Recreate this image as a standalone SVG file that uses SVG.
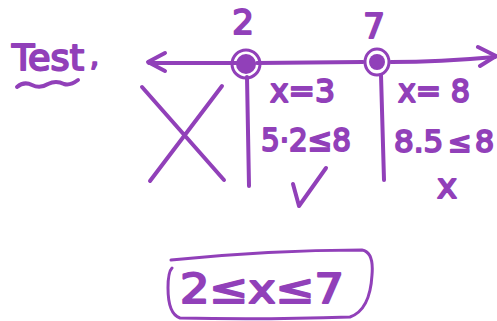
<svg xmlns="http://www.w3.org/2000/svg" width="497" height="321" viewBox="0 0 497 321">
<style>
.s{fill:none;stroke:#9140b9;stroke-linecap:round;stroke-linejoin:round}
.t{fill:#9140b9;font-family:"DejaVu Sans",sans-serif;stroke:#9140b9;stroke-width:2;stroke-linejoin:round}
</style>
<rect width="497" height="321" fill="#fff"/>
<g id="title">
<text class="t" x="12" y="70" font-size="36" textLength="72" lengthAdjust="spacingAndGlyphs" font-family="Liberation Sans, sans-serif">Test</text>
<text class="t" x="90" y="66" font-size="28">,</text>
<path class="s" stroke-width="4" d="M17 87 Q24 81 32 85 Q40 89 48 84 Q56 80 64 84 Q70 86 78 80"/>
</g>
<g id="connectors">
<path class="s" stroke-width="4" d="M149 63 L238 63 M257 63 L363 62 M391 62 Q440 62 495 57"/>
<path class="s" stroke-width="4" d="M165 53 L148 62 L165 71"/>
<path class="s" stroke-width="4" d="M478 47 L496 56 L480 66"/>
<path class="s" stroke-width="4" d="M247 77 L249 186"/>
<path class="s" stroke-width="4" d="M381 75 L384 180"/>
</g>
<g id="n2">
<circle cx="246" cy="64" r="14" fill="none" stroke="#9140b9" stroke-width="3"/>
<circle cx="246" cy="64" r="10" fill="#9140b9"/>
<text class="t" x="243" y="34" font-size="34" text-anchor="middle">2</text>
</g>
<g id="n7">
<ellipse cx="377" cy="62" rx="12" ry="13" fill="none" stroke="#9140b9" stroke-width="3"/>
<circle cx="377" cy="62" r="8" fill="#9140b9"/>
<text class="t" x="374" y="38" font-size="34" text-anchor="middle">7</text>
</g>
<g id="left">
<path class="s" stroke-width="4" d="M142 87 L224 180 M222 86 L150 181"/>
</g>
<g id="mid">
<text class="t" x="270" y="102" font-size="32" textLength="65" lengthAdjust="spacingAndGlyphs">x=3</text>
<text class="t" x="261" y="151" font-size="32" textLength="90" lengthAdjust="spacingAndGlyphs">5·2≤8</text>
<path class="s" stroke-width="4" d="M293 184 L299 206 L326 168"/>
</g>
<g id="right">
<text class="t" x="398" y="102" font-size="32" textLength="72" lengthAdjust="spacingAndGlyphs">x= 8</text>
<text class="t" x="394" y="152" font-size="31">8.5</text>
<text class="t" x="448" y="152" font-size="28">≤</text>
<text class="t" x="475" y="152" font-size="30">8</text>
<text class="t" x="437" y="198" font-size="34">x</text>
</g>
<g id="answer">
<path class="s" stroke-width="3" d="M171 260 Q270 250 362 250 Q374 252 372 275 Q370 310 350 317 Q260 320 180 318 Q168 314 168 288 Q168 272 172 268"/>
<text class="t" x="180" y="303" font-size="40" textLength="164" lengthAdjust="spacingAndGlyphs">2≤x≤7</text>
</g>
</svg>
